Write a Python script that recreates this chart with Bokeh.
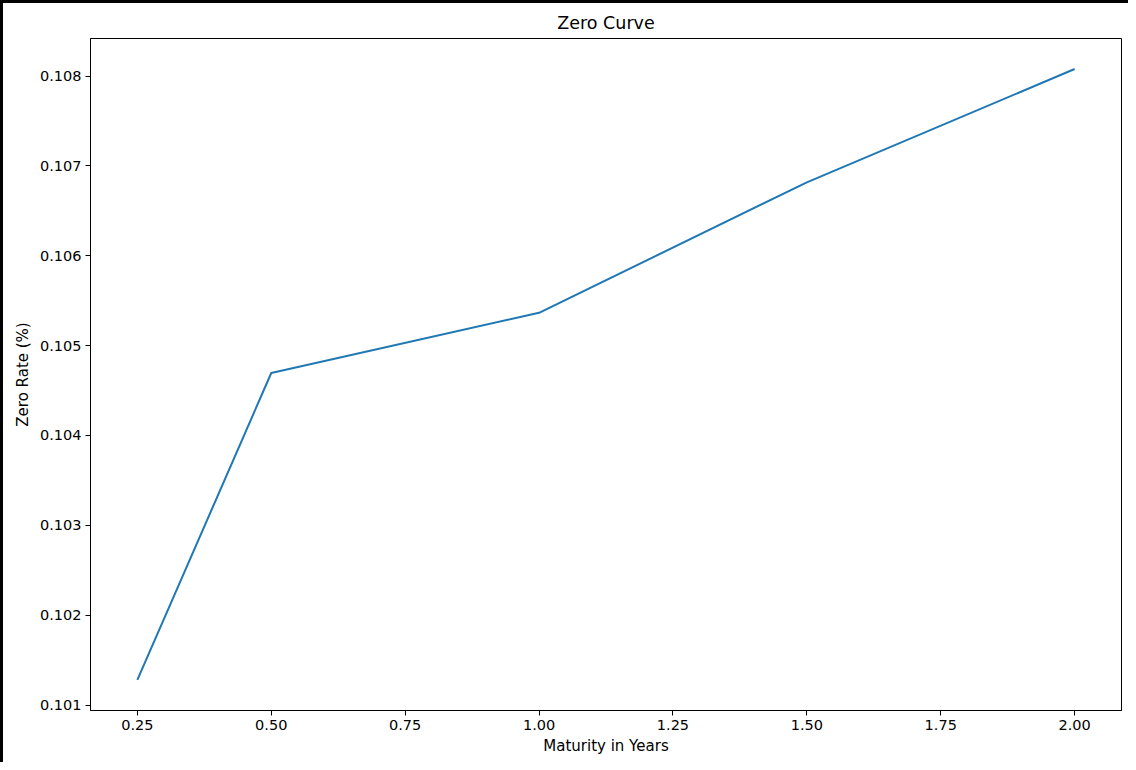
from bokeh.plotting import figure
from bokeh.models import FixedTicker, PrintfTickFormatter, Range1d
from bokeh.embed import file_html
from bokeh.resources import INLINE

# Data
maturity = [0.25, 0.5, 1.0, 1.5, 2.0]
zero_rate = [0.101279, 0.104695, 0.105365, 0.106817, 0.108078]

x_ticks = [0.25, 0.5, 0.75, 1.0, 1.25, 1.5, 1.75, 2.0]
y_ticks = [0.101, 0.102, 0.103, 0.104, 0.105, 0.106, 0.107, 0.108]

FONT = "DejaVu Sans"
FS = "14.5px"

xpad = (max(maturity) - min(maturity)) * 0.05
ypad = (max(zero_rate) - min(zero_rate)) * 0.05

p = figure(
    width=1128, height=762,
    output_backend="svg", toolbar_location=None,
    x_range=Range1d(min(maturity) - xpad, max(maturity) + xpad),
    y_range=Range1d(min(zero_rate) - ypad, max(zero_rate) + ypad),
    min_border_left=87, min_border_right=10, min_border_top=35, min_border_bottom=55,
    title="Zero Curve",
)
p.styles = {"border-left": "3px solid black", "border-top": "3px solid black"}

p.title.align = "center"
p.title.text_font = FONT
p.title.text_font_size = "17.5px"
p.title.text_font_style = "normal"
p.title.text_color = "black"
p.title.standoff = 12

p.line(maturity, zero_rate, line_color="#1f77b4", line_width=2)

p.xgrid.visible = False
p.ygrid.visible = False
p.outline_line_color = "black"
p.outline_line_width = 1
p.background_fill_color = "white"
p.border_fill_color = "white"

p.xaxis.ticker = FixedTicker(ticks=x_ticks)
p.yaxis.ticker = FixedTicker(ticks=y_ticks)
p.xaxis.formatter = PrintfTickFormatter(format="%.2f")
p.yaxis.formatter = PrintfTickFormatter(format="%.3f")
p.xaxis.axis_label = "Maturity in Years"
p.yaxis.axis_label = "Zero Rate (%)"

for ax in (p.xaxis[0], p.yaxis[0]):
    ax.major_label_text_font = FONT
    ax.major_label_text_font_size = FS
    ax.major_label_text_color = "black"
    ax.axis_label_text_font = FONT
    ax.axis_label_text_font_size = "15px"
    ax.axis_label_text_font_style = "normal"
    ax.axis_label_text_color = "black"
    ax.minor_tick_line_color = None
    ax.major_tick_in = 0
    ax.major_tick_out = 5
    ax.major_tick_line_color = "black"
    ax.axis_line_color = "black"
    ax.major_label_standoff = 4

p.xaxis.axis_label_standoff = 4
p.yaxis.axis_label_standoff = 5

open("out.html", "w").write(file_html(p, INLINE))
